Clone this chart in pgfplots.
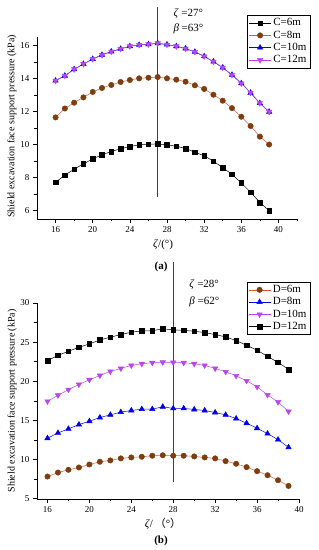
\documentclass[border=0pt]{standalone}
\usepackage{fontspec}
\setmainfont{Liberation Serif}
\newfontfamily\cjk{Noto Sans CJK SC}
\usepackage{pgfplots}
\pgfplotsset{compat=1.18}
\definecolor{brownm}{RGB}{125,62,15}
\definecolor{redl}{RGB}{225,85,60}
\definecolor{bluem}{RGB}{0,0,230}
\definecolor{violm}{RGB}{185,70,235}
\pgfplotsset{
  common/.style={
    scale only axis, clip=false,
    axis lines=left,
    x axis line style={-}, y axis line style={-},
    tick align=outside,
    major tick length=4bp, minor tick length=2.5bp,
    tick style={black, line width=0.5pt},
    /pgf/number format/assume math mode=true,
    tick label style={font=\fontsize{9bp}{10bp}\selectfont},
    label style={font=\fontsize{11bp}{13bp}\selectfont},
    legend style={font=\fontsize{11bp}{12.5bp}\selectfont, draw=black, line width=0.5pt,
      inner sep=1.5bp, row sep=-0.5bp, cells={anchor=west}},
    legend cell align=left,
    legend image code/.code={\draw[mark repeat=2,mark phase=2] plot coordinates {(0bp,0bp) (11bp,0bp) (22bp,0bp)};},
    every axis plot/.append style={line width=0.5pt},
  }
}
\begin{document}
\begin{tikzpicture}
\path[use as bounding box] (0,0) rectangle (319bp,550bp);
% ---------------- (a) ----------------
\begin{axis}[common,
  at={(37bp,331bp)}, anchor=south west,
  width=260bp, height=182bp,
  xmin=14, xmax=42, ymin=5.5, ymax=16.5,
  xtick={16,20,...,40}, minor xtick={18,22,...,42},
  ytick={6,8,...,16}, minor ytick={7,9,...,15},
  ylabel={Shield excavation face support pressure (kPa)},
  ylabel style={at={(axis description cs:-0.096,0.51)}, anchor=center, font=\fontsize{10bp}{12bp}\selectfont},
  xlabel={\textit{ζ}/(°)},
  xlabel style={at={(axis description cs:0.485,-0.143)}, anchor=center},
  legend style={at={(axis description cs:0.808,1.121)}, anchor=north west},
]
\addplot[black, mark=square*, mark size=2.3bp, mark options={solid, fill=black}] coordinates {
(16,7.72) (17,8.15) (18,8.51) (19,8.83) (20,9.13) (21,9.38) (22,9.58) (23,9.74)
(24,9.88) (25,9.98) (26,10.02) (27,10.04) (28,9.98) (29,9.90) (30,9.76) (31,9.54)
(32,9.32) (33,9.00) (34,8.60) (35,8.20) (36,7.68) (37,7.12) (38,6.50) (39,6.00)};
\addlegendentry{C=6m}
\addplot[redl, mark=*, mark size=2.7bp, mark options={draw=brownm, fill=brownm}] coordinates {
(16,11.64) (17,12.18) (18,12.53) (19,12.85) (20,13.18) (21,13.42) (22,13.60) (23,13.78)
(24,13.90) (25,14.00) (26,14.04) (27,14.08) (28,14.00) (29,13.92) (30,13.80) (31,13.58)
(32,13.36) (33,13.01) (34,12.65) (35,12.20) (36,11.68) (37,11.12) (38,10.48) (39,10.00)};
\addlegendentry{C=8m}
\addplot[bluem, mark=triangle*, mark size=3.1bp, mark options={fill=bluem}] coordinates {
(16,13.86) (17,14.16) (18,14.55) (19,14.87) (20,15.17) (21,15.42) (22,15.62) (23,15.78)
(24,15.94) (25,16.02) (26,16.06) (27,16.12) (28,16.04) (29,15.94) (30,15.80) (31,15.60)
(32,15.33) (33,15.01) (34,14.65) (35,14.21) (36,13.70) (37,13.13) (38,12.50) (39,11.98)};
\addlegendentry{C=10m}
\addplot[violm, mark=triangle*, mark size=3.1bp, mark options={rotate=180, fill=violm}] coordinates {
(16,13.86) (17,14.16) (18,14.55) (19,14.87) (20,15.17) (21,15.42) (22,15.62) (23,15.78)
(24,15.94) (25,16.02) (26,16.06) (27,16.12) (28,16.04) (29,15.94) (30,15.80) (31,15.60)
(32,15.33) (33,15.01) (34,14.65) (35,14.21) (36,13.70) (37,13.13) (38,12.50) (39,11.98)};
\addlegendentry{C=12m}
\addplot[black!75, line width=0.6pt, forget plot] coordinates {(27,6.83) (27,18.3)};
\node[anchor=west, font=\fontsize{11bp}{13bp}\selectfont, inner sep=0] at (axis cs:28.68,17.94) {\textit{ζ} =27°};
\node[anchor=west, font=\fontsize{11bp}{13bp}\selectfont, inner sep=0] at (axis cs:28.68,16.97) {\textit{β} =63°};
\end{axis}
\node[font=\fontsize{11bp}{13bp}\selectfont\bfseries] at (161bp,283bp) {(a)};
% ---------------- (b) ----------------
\begin{axis}[common,
  at={(37bp,51.3bp)}, anchor=south west,
  width=262bp, height=195.7bp,
  xmin=15, xmax=40, ymin=5, ymax=30,
  xtick={16,20,...,40}, minor xtick={18,22,...,38},
  ytick={5,10,...,30}, minor ytick={7.5,12.5,...,27.5},
  ylabel={Shield excavation face support pressure (kPa)},
  ylabel style={at={(axis description cs:-0.095,0.5)}, anchor=center, font=\fontsize{10bp}{12bp}\selectfont},
  xlabel={\textit{ζ}/\,{\cjk （}°{\cjk ）}},
  xlabel style={at={(axis description cs:0.481,-0.129)}, anchor=center},
  legend style={at={(axis description cs:0.80,1.109)}, anchor=north west},
]
\addplot[redl, mark=*, mark size=2.7bp, mark options={draw=brownm, fill=brownm}] coordinates {
(16,7.83) (17,8.34) (18,8.69) (19,8.99) (20,9.37) (21,9.72) (22,9.89) (23,10.15)
(24,10.27) (25,10.36) (26,10.49) (27,10.55) (28,10.49) (29,10.49) (30,10.40) (31,10.27)
(32,10.15) (33,9.80) (34,9.46) (35,9.03) (36,8.52) (37,8.00) (38,7.36) (39,6.63)};
\addlegendentry{D=6m}
\addplot[bluem, mark=triangle*, mark size=3.1bp, mark options={fill=bluem}] coordinates {
(16,12.72) (17,13.40) (18,13.92) (19,14.47) (20,14.90) (21,15.37) (22,15.71) (23,16.06)
(24,16.27) (25,16.44) (26,16.44) (27,16.74) (28,16.53) (29,16.53) (30,16.40) (31,16.27)
(32,16.01) (33,15.71) (34,15.24) (35,14.64) (36,14.00) (37,13.31) (38,12.54) (39,11.56)};
\addlegendentry{D=8m}
\addplot[violm, mark=triangle*, mark size=3.1bp, mark options={rotate=180, fill=violm}] coordinates {
(16,17.44) (17,18.21) (18,18.94) (19,19.59) (20,20.19) (21,20.74) (22,21.26) (23,21.64)
(24,22.03) (25,22.24) (26,22.37) (27,22.43) (28,22.40) (29,22.37) (30,22.24) (31,22.03)
(32,21.64) (33,21.21) (34,20.70) (35,20.06) (36,19.29) (37,18.26) (38,17.35) (39,16.14)};
\addlegendentry{D=10m}
\addplot[black, mark=square*, mark size=2.3bp, mark options={solid, fill=black}] coordinates {
(16,22.63) (17,23.31) (18,23.83) (19,24.34) (20,24.77) (21,25.28) (22,25.63) (23,25.97)
(24,26.27) (25,26.44) (26,26.46) (27,26.70) (28,26.57) (29,26.50) (30,26.40) (31,26.22)
(32,25.97) (33,25.67) (34,25.20) (35,24.60) (36,23.96) (37,23.18) (38,22.41) (39,21.51)};
\addlegendentry{D=12m}
\addplot[black!75, line width=0.6pt, forget plot] coordinates {(28,7.1) (28,35.3)};
\node[anchor=west, font=\fontsize{11bp}{13bp}\selectfont, inner sep=0] at (axis cs:29.53,32.35) {\textit{ζ} =28°};
\node[anchor=west, font=\fontsize{11bp}{13bp}\selectfont, inner sep=0] at (axis cs:29.53,30.2) {\textit{β} =62°};
\end{axis}
\node[font=\fontsize{11bp}{13bp}\selectfont\bfseries] at (161bp,9bp) {(b)};
\end{tikzpicture}
\end{document}
